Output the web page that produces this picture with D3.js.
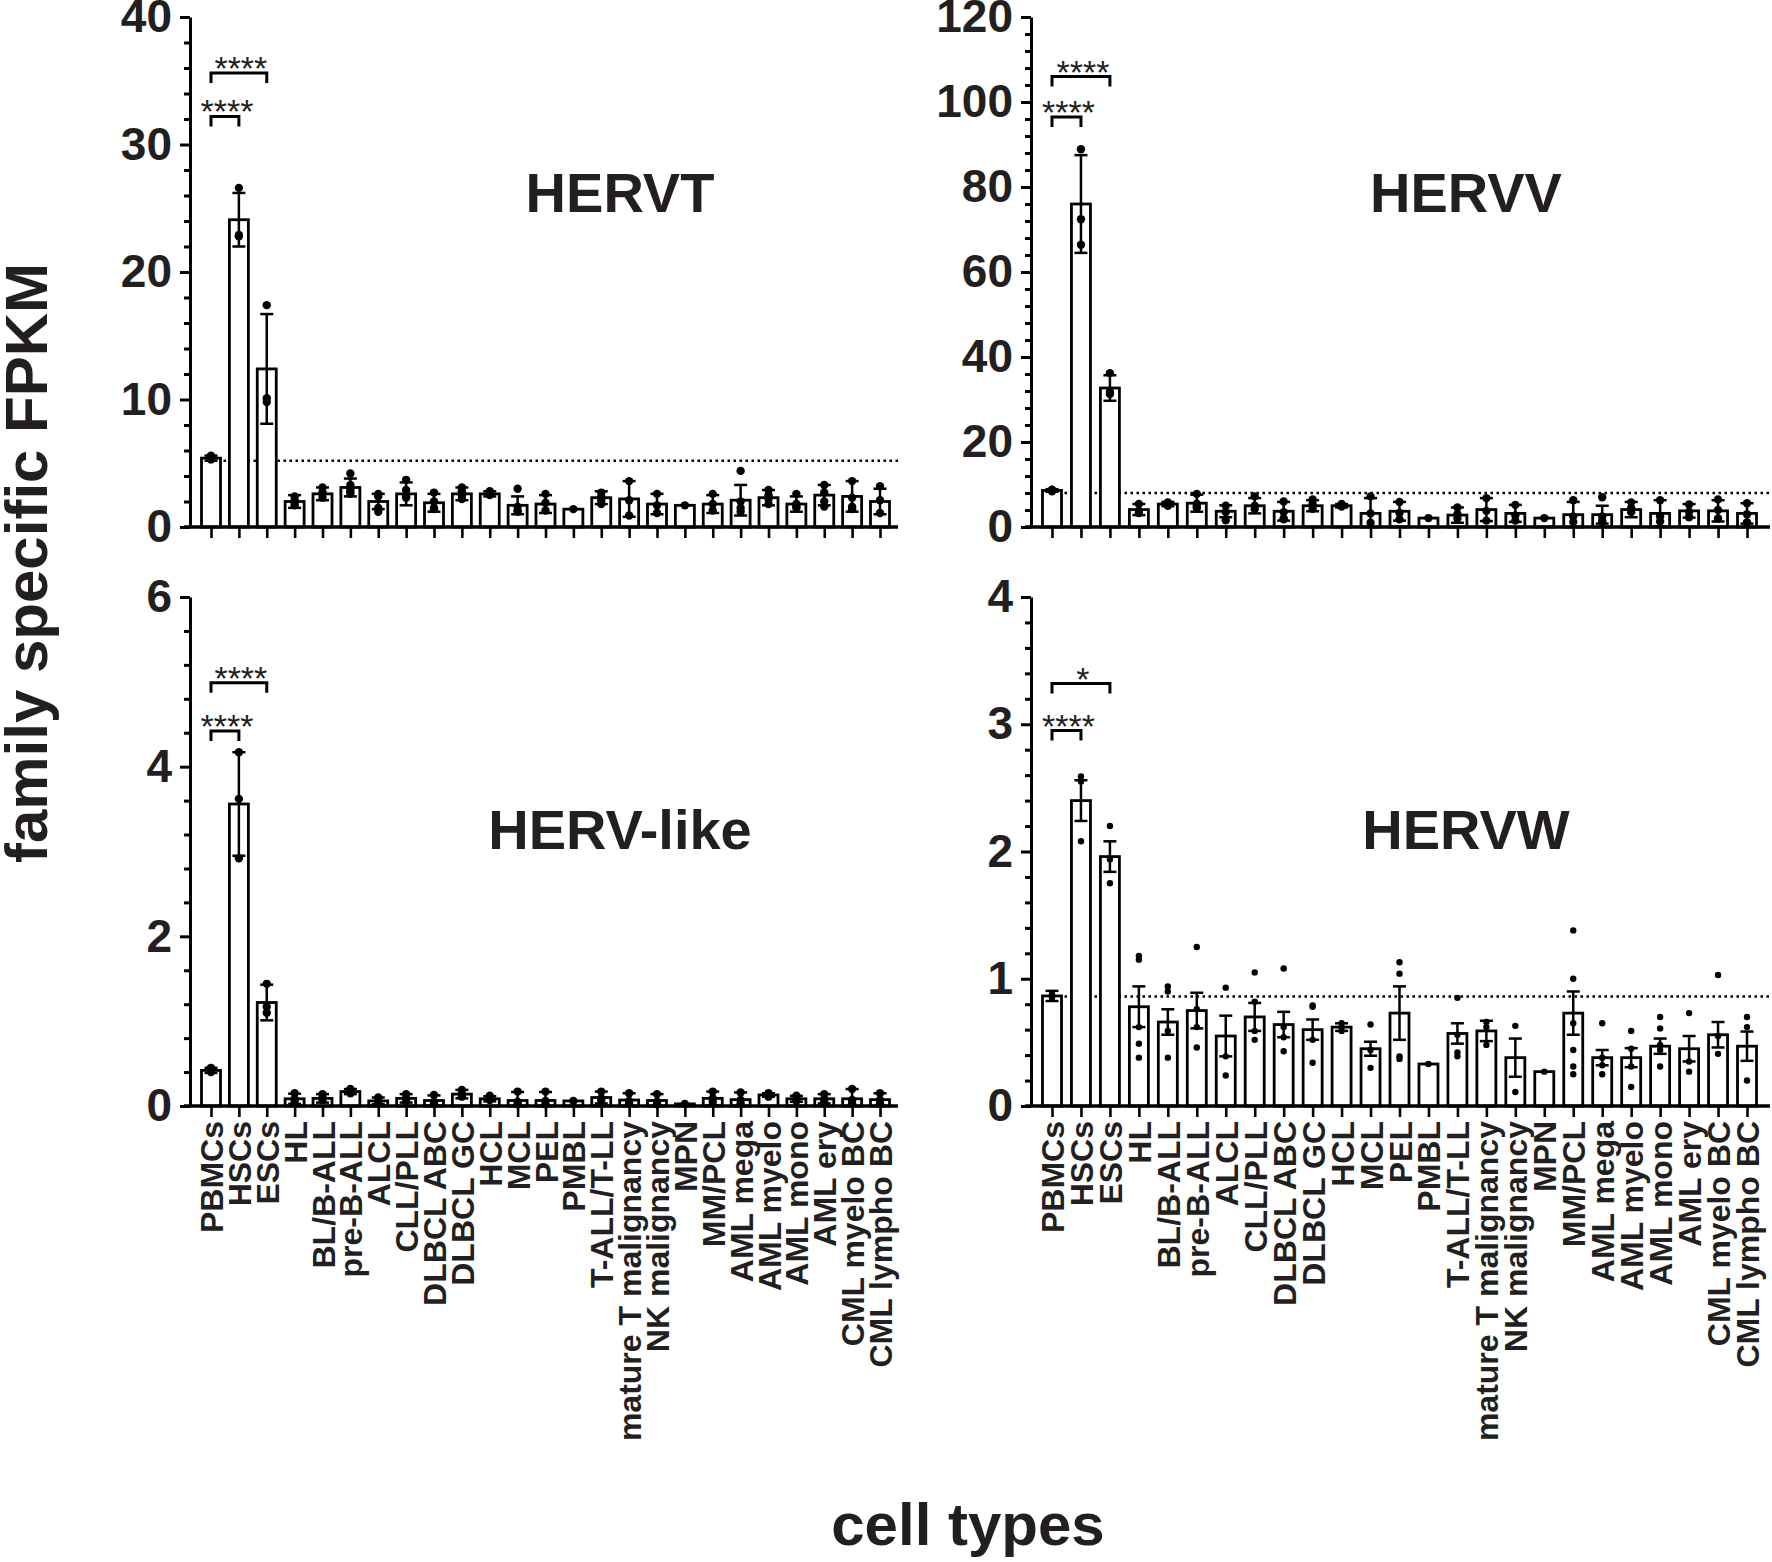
<!DOCTYPE html>
<html>
<head>
<meta charset="utf-8">
<script src="https://cdn.jsdelivr.net/npm/d3@7"></script>
<style>
body { margin: 0; background: #fff; }
svg { display: block; }
text { font-family: "Liberation Sans", Arial, sans-serif; fill: #231f20; }
</style>
</head>
<body>
<svg id="chart" width="1772" height="1562"></svg>
<script>
// ---- data ----
const categories = ["PBMCs", "HSCs", "ESCs", "HL", "BL/B-ALL", "pre-B-ALL", "ALCL", "CLL/PLL",
    "DLBCL ABC", "DLBCL GC", "HCL", "MCL", "PEL", "PMBL", "T-ALL/T-LL", "mature T malignancy",
    "NK malignancy", "MPN", "MM/PCL", "AML mega", "AML myelo", "AML mono", "AML ery",
    "CML myelo BC", "CML lympho BC"];

const hervtMean = [5.4, 24.1, 12.4, 2.0, 2.6, 3.1, 2.0, 2.6, 1.9, 2.6, 2.6, 1.7, 1.8, 1.4, 2.3, 2.2, 1.8, 1.7, 1.8, 2.1, 2.3, 1.8, 2.5, 2.4, 2.0];
const hervtErr  = [0.2, 2.1, 4.3, 0.5, 0.5, 0.7, 0.6, 0.9, 0.7, 0.5, 0.2, 0.7, 0.7, 0, 0.5, 1.4, 0.8, 0, 0.7, 1.2, 0.6, 0.6, 0.8, 1.2, 1.0];
const hervtDots = [[5.3, 5.5, 5.6], [26.6, 22.9, 22.8], [17.4, 10.1, 9.8], [2.4, 1.9, 1.7, 2.1], [3.1, 2.6, 2.3, 2.7],
    [4.2, 3.3, 2.8, 2.6, 3.0], [2.6, 2.4, 1.5, 1.2], [3.7, 2.9, 2.4, 2.3], [2.7, 2.0, 1.5, 1.4], [3.1, 2.8, 2.5, 2.2],
    [2.8, 2.6, 2.5], [3.0, 1.6, 1.3, 1.2], [2.6, 1.9, 1.3], [1.4], [2.7, 2.4, 2.1, 1.8], [3.6, 2.1, 0.9],
    [2.6, 1.7, 1.1], [1.7], [2.6, 1.8, 1.3], [4.4, 2.0, 1.5, 1.2], [2.9, 2.5, 2.2, 1.8], [2.6, 1.8, 1.5, 1.6],
    [3.3, 2.7, 2.0, 1.6], [3.6, 2.3, 1.4, 1.6], [3.2, 2.1, 1.1]];

const hervvMean = [8.6, 76.0, 32.7, 4.1, 5.4, 5.6, 3.7, 5.0, 3.7, 5.0, 5.0, 3.2, 3.7, 2.1, 2.8, 4.1, 3.2, 2.1, 2.9, 2.9, 4.1, 3.2, 3.8, 3.8, 3.2];
const hervvErr  = [0.3, 11.5, 3.0, 1.3, 0.5, 2.0, 1.4, 1.8, 2.2, 1.3, 0.4, 3.6, 2.2, 0, 1.8, 2.7, 2.0, 0, 3.0, 2.1, 1.8, 3.1, 1.6, 2.5, 2.4];
const hervvDots = [[8.4, 8.7, 8.8], [88.9, 72.4, 66.4], [36.2, 31.3, 31.8], [5.4, 3.8, 3.3], [5.8, 5.3, 5.0],
    [7.8, 5.5, 4.5, 4.8], [5.0, 3.5, 1.6], [7.2, 5.0, 4.2], [6.0, 3.5, 2.0, 1.8], [6.5, 5.4, 4.3],
    [5.4, 4.8], [7.2, 3.2, 1.0], [5.9, 3.3, 1.8], [2.1], [4.6, 3.0, 2.0], [6.8, 3.8, 1.5],
    [5.2, 2.7, 1.5], [2.1], [6.3, 2.5, 1.2], [7.0, 2.5, 1.5, 1.2], [5.8, 4.5, 3.5], [6.3, 2.5, 1.3],
    [5.3, 3.6, 2.3], [6.5, 4.0, 2.0], [5.6, 3.0, 1.1]];

const hervlikeMean = [0.42, 3.56, 1.22, 0.085, 0.09, 0.17, 0.06, 0.09, 0.065, 0.14, 0.085, 0.065, 0.065, 0.06, 0.1, 0.07, 0.065, 0.025, 0.09, 0.075, 0.13, 0.085, 0.085, 0.085, 0.075];
const hervlikeErr  = [0.03, 0.61, 0.21, 0.06, 0.05, 0.03, 0.04, 0.05, 0.06, 0.05, 0.03, 0.1, 0.1, 0, 0.07, 0.08, 0.075, 0, 0.08, 0.085, 0.02, 0.035, 0.055, 0.115, 0.075];
const hervlikeDots = [[0.40, 0.43, 0.45], [4.17, 3.62, 2.92], [1.44, 1.17, 1.10], [0.15, 0.08, 0.05], [0.14, 0.1, 0.07],
    [0.2, 0.17, 0.15], [0.1, 0.05, 0.04], [0.14, 0.09, 0.06], [0.13, 0.05, 0.03], [0.19, 0.14, 0.11],
    [0.12, 0.08, 0.07], [0.17, 0.05, 0.02], [0.17, 0.06, 0.02], [0.06], [0.17, 0.09, 0.07], [0.15, 0.06, 0.03],
    [0.14, 0.05, 0.02], [0.025], [0.17, 0.09, 0.05], [0.16, 0.07, 0.03], [0.15, 0.13, 0.11], [0.12, 0.08, 0.06],
    [0.14, 0.08, 0.05], [0.2, 0.07, 0.03], [0.15, 0.07, 0.03]];

const hervwMean = [0.865, 2.40, 1.96, 0.78, 0.66, 0.75, 0.55, 0.70, 0.64, 0.60, 0.62, 0.45, 0.73, 0.33, 0.57, 0.59, 0.38, 0.27, 0.73, 0.38, 0.38, 0.47, 0.45, 0.56, 0.47];
const hervwErr  = [0.04, 0.16, 0.12, 0.16, 0.10, 0.14, 0.16, 0.11, 0.10, 0.08, 0.03, 0.055, 0.21, 0, 0.08, 0.08, 0.15, 0, 0.17, 0.06, 0.075, 0.06, 0.10, 0.10, 0.115];
const hervwDots = [[0.86, 0.88, 0.85], [2.59, 2.55, 2.08], [2.2, 1.94, 1.75], [1.18, 1.15, 0.62, 0.49, 0.38],
    [0.94, 0.90, 0.59, 0.38], [1.25, 0.76, 0.62, 0.46], [0.93, 0.39, 0.24], [1.05, 0.82, 0.59, 0.52],
    [1.08, 0.62, 0.54, 0.43], [0.79, 0.78, 0.52, 0.34], [0.65, 0.59, 0.62], [0.64, 0.44, 0.30],
    [1.13, 1.04, 0.39, 0.37], [0.33], [0.85, 0.56, 0.42, 0.39], [0.66, 0.62, 0.48], [0.63, 0.11], [0.27],
    [1.38, 1.0, 0.65, 0.44, 0.31, 0.25], [0.65, 0.38, 0.32, 0.25], [0.59, 0.45, 0.31, 0.15],
    [0.70, 0.61, 0.48, 0.44, 0.31], [0.73, 0.35, 0.27], [1.03, 0.55, 0.41], [0.70, 0.62, 0.20]];

const hervtTicks = [0, 10, 20, 30, 40];
const hervvTicks = [0, 20, 40, 60, 80, 100, 120];
const hervlikeTicks = [0, 2, 4, 6];
const hervwTicks = [0, 1, 2, 3, 4];

// PBMC reference level (dotted line), null = none
const refLevels = { HERVT: 5.2, HERVV: 8.0, "HERV-like": null, HERVW: 0.86 };
// significance brackets: [from, to, label, level]
const hervtSig = [["PBMCs", "HSCs", "****", 32.2], ["PBMCs", "ESCs", "****", 35.6]];
const hervvSig = [["PBMCs", "HSCs", "****", 96.5], ["PBMCs", "ESCs", "****", 106]];
const hervlikeSig = [["PBMCs", "HSCs", "****", 4.42], ["PBMCs", "ESCs", "****", 4.99]];
const hervwSig = [["PBMCs", "HSCs", "****", 2.95], ["PBMCs", "ESCs", "*", 3.32]];

// ---- layout ----
const panels = [
    { name: "HERVT", mean: hervtMean, err: hervtErr, dots: hervtDots, ticks: hervtTicks, minor: 2, sig: hervtSig,
      axisX: 190, x0: 211, x1: 880, xEnd: 898, yZero: 527, yTop: 17, labels: false, titleX: 620, titleY: 212, r: 4.2 },
    { name: "HERVV", mean: hervvMean, err: hervvErr, dots: hervvDots, ticks: hervvTicks, minor: 4, sig: hervvSig,
      axisX: 1031, x0: 1052, x1: 1747, xEnd: 1770, yZero: 527, yTop: 17, labels: false, titleX: 1466, titleY: 212, r: 4.2 },
    { name: "HERV-like", mean: hervlikeMean, err: hervlikeErr, dots: hervlikeDots, ticks: hervlikeTicks, minor: 0.4, sig: hervlikeSig,
      axisX: 190, x0: 211, x1: 880, xEnd: 898, yZero: 1106, yTop: 597, labels: true, titleX: 620, titleY: 849, r: 4.2 },
    { name: "HERVW", mean: hervwMean, err: hervwErr, dots: hervwDots, ticks: hervwTicks, minor: 0.2, sig: hervwSig,
      axisX: 1031, x0: 1052, x1: 1747, xEnd: 1770, yZero: 1106, yTop: 597, labels: true, titleX: 1466, titleY: 849, r: 3.2 }
];

const svg = d3.select("#chart");
const barW = 19, capW = 13;

panels.forEach(p => {
    const g = svg.append("g");
    const x = d3.scalePoint().domain(categories).range([p.x0, p.x1]);
    const ymax = d3.max(p.ticks);
    const y = d3.scaleLinear().domain([0, ymax]).range([p.yZero, p.yTop]);

    // dotted PBMC level, behind the bars
    const ref = refLevels[p.name];
    if (ref !== null) {
        g.append("line")
            .attr("x1", x("PBMCs") + barW / 2 + 3).attr("x2", p.xEnd)
            .attr("y1", y(ref)).attr("y2", y(ref))
            .attr("stroke", "#000").attr("stroke-width", 2.5)
            .attr("stroke-dasharray", "2.5,3.5");
    }

    const rows = categories.map((c, i) => ({ c: c, m: p.mean[i], e: p.err[i], dots: p.dots[i] }));

    g.selectAll("rect.bar").data(rows).enter().append("rect")
        .attr("class", "bar")
        .attr("x", d => x(d.c) - barW / 2)
        .attr("y", d => y(d.m))
        .attr("width", barW)
        .attr("height", d => y(0) - y(d.m))
        .attr("fill", "#fff").attr("stroke", "#000").attr("stroke-width", 2.8);

    // error bars
    const eb = g.selectAll("g.err").data(rows.filter(d => d.e > 0)).enter().append("g")
        .attr("stroke", "#000").attr("stroke-width", 2.5);
    eb.append("line")
        .attr("x1", d => x(d.c)).attr("x2", d => x(d.c))
        .attr("y1", d => y(d.m + d.e)).attr("y2", d => y(Math.max(0, d.m - d.e)));
    eb.append("line")
        .attr("x1", d => x(d.c) - capW / 2).attr("x2", d => x(d.c) + capW / 2)
        .attr("y1", d => y(d.m + d.e)).attr("y2", d => y(d.m + d.e));
    eb.append("line")
        .attr("x1", d => x(d.c) - capW / 2).attr("x2", d => x(d.c) + capW / 2)
        .attr("y1", d => y(Math.max(0, d.m - d.e))).attr("y2", d => y(Math.max(0, d.m - d.e)));

    // individual samples
    const pts = [];
    rows.forEach(d => d.dots.forEach(v => pts.push({ c: d.c, v: v })));
    g.selectAll("circle.pt").data(pts).enter().append("circle")
        .attr("cx", d => x(d.c)).attr("cy", d => y(d.v)).attr("r", p.r).attr("fill", "#000");

    // y axis
    const yAxis = d3.axisLeft(y).tickValues(p.ticks).tickSize(10).tickSizeOuter(0).tickPadding(8)
        .tickFormat(d3.format("d"));
    const ya = g.append("g").attr("transform", `translate(${p.axisX},0)`).call(yAxis);
    ya.select(".domain").attr("stroke-width", 3);
    ya.selectAll(".tick line").attr("stroke-width", 3);
    ya.selectAll(".tick text").style("font-size", "46px").style("font-weight", "bold").attr("fill", "#231f20");
    const minorVals = d3.range(0, ymax + 1e-9, p.minor).filter(v => !p.ticks.some(t => Math.abs(t - v) < 1e-6));
    const yMinor = d3.axisLeft(y).tickValues(minorVals).tickSize(6).tickSizeOuter(0).tickFormat("");
    const ym = g.append("g").attr("transform", `translate(${p.axisX},0)`).call(yMinor);
    ym.select(".domain").remove();
    ym.selectAll(".tick line").attr("stroke-width", 3);

    // x axis
    g.append("line")
        .attr("x1", p.axisX - 6).attr("x2", p.xEnd)
        .attr("y1", p.yZero).attr("y2", p.yZero)
        .attr("stroke", "#000").attr("stroke-width", 3.5);
    const xAxis = d3.axisBottom(x).tickSize(11).tickSizeOuter(0)
        .tickFormat(p.labels ? (d => d) : "");
    const xa = g.append("g").attr("transform", `translate(0,${p.yZero})`).call(xAxis);
    xa.select(".domain").remove();
    xa.selectAll(".tick line").attr("stroke-width", 2.6);
    if (p.labels) {
        xa.selectAll(".tick text")
            .attr("x", -15).attr("y", 0).attr("dy", "0.36em")
            .attr("transform", "rotate(-90)")
            .style("text-anchor", "end")
            .style("font-size", "32px").style("font-weight", "bold").attr("fill", "#231f20");
    }

    // significance brackets
    p.sig.forEach(s => {
        const xa1 = x(s[0]), xb1 = x(s[1]), yy = y(s[3]);
        g.append("path")
            .attr("d", `M${xa1},${yy + 10}V${yy}H${xb1}V${yy + 10}`)
            .attr("fill", "none").attr("stroke", "#000").attr("stroke-width", 3);
        g.append("text")
            .attr("x", (xa1 + xb1) / 2 + 2).attr("y", yy + 7)
            .attr("text-anchor", "middle")
            .style("font-size", "34px")
            .text(s[2]);
    });

    // panel title
    g.append("text")
        .attr("x", p.titleX).attr("y", p.titleY)
        .attr("text-anchor", "middle")
        .style("font-size", "56px").style("font-weight", "bold")
        .text(p.name);
});

// shared axis titles
svg.append("text")
    .attr("transform", "translate(47,563) rotate(-90)")
    .attr("text-anchor", "middle")
    .style("font-size", "60px").style("font-weight", "bold")
    .text("family specific FPKM");
svg.append("text")
    .attr("x", 968).attr("y", 1545)
    .attr("text-anchor", "middle")
    .style("font-size", "60px").style("font-weight", "bold")
    .text("cell types");
</script>
</body>
</html>
